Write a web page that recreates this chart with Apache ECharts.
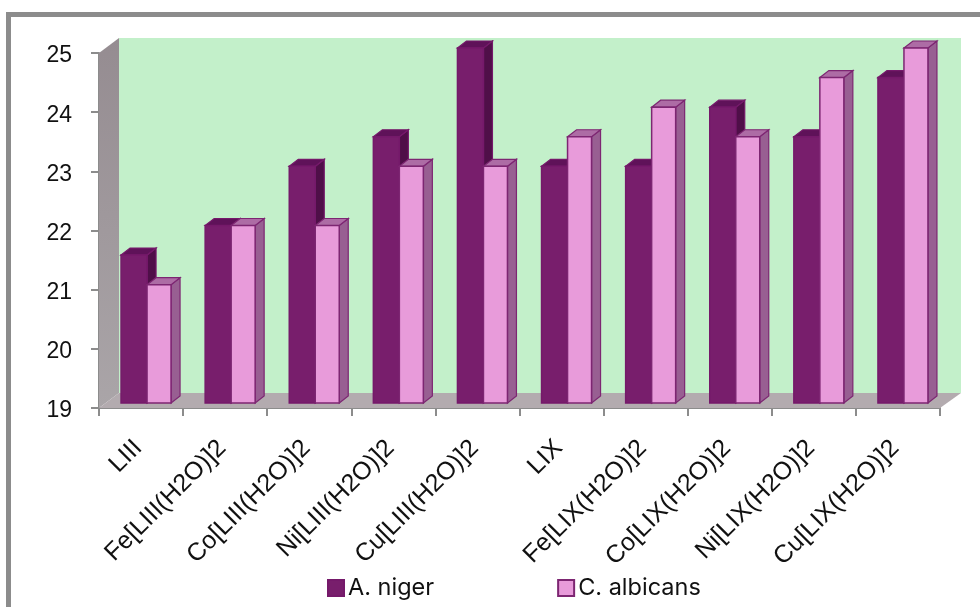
<!DOCTYPE html>
<html>
<head>
<meta charset="utf-8">
<style>html,body{margin:0;padding:0;background:#fff}#c{width:980px;height:607px}</style>
<script src="https://cdn.jsdelivr.net/npm/echarts@6/dist/echarts.min.js"></script>
</head>
<body>
<div id="c"></div>
<script>
// Antimicrobial activity of the ligands and their metal complexes
const categories = ['LIII','Fe[LIII(H2O)]2','Co[LIII(H2O)]2','Ni[LIII(H2O)]2','Cu[LIII(H2O)]2','LIX','Fe[LIX(H2O)]2','Co[LIX(H2O)]2','Ni[LIX(H2O)]2','Cu[LIX(H2O)]2'];
const aNiger = [21.5,22,23,23.5,25,23,23,24,23.5,24.5];
const cAlbicans = [21,22,22,23,23,23.5,24,23.5,24.5,25];
const yTicks = {min:19,max:25,step:1};

// Oblique projection used for the box depth
const wallDX = 20, wallDY = -15;
const barDX = 9, barDY = -7;
const barLift = -5, barShift = 6;

const chart = echarts.init(document.getElementById('c'));

function shade(points, fill, stroke, lw){
  return {type:'polygon',shape:{points},style:{fill,stroke:stroke||fill,lineWidth:lw==null?1:lw}};
}

// Back wall, side wall and floor, taken from the grid rectangle
function renderBox(params){
  const g = params.coordSys, l=g.x, t=g.y, r=g.x+g.width, b=g.y+g.height;
  const sideWall = new echarts.graphic.LinearGradient(0,0,0,1,[{offset:0,color:'#958c91'},{offset:1,color:'#aaa5a8'}]);
  return {type:'group',children:[
    shade([[l+wallDX,t+wallDY],[r+wallDX+1,t+wallDY],[r+wallDX+1,b+wallDY],[l+wallDX,b+wallDY]],'#c3f0ca','#c3f0ca',0),
    shade([[l,t],[l+wallDX,t+wallDY],[l+wallDX,b+wallDY],[l,b]],sideWall,'#9a9196',0),
    shade([[l,b],[l+wallDX,b+wallDY],[r+wallDX+1,b+wallDY],[r,b]],'#b3abaf','#b3abaf',0)
  ]};
}

// One bar in oblique view: front, right side and top faces
function barRenderer(x0Offset, barW, colors){
  return function(params, api){
    const idx = api.value(0), val = api.value(1);
    const top = api.coord([idx,val]), base = api.coord([idx,yTicks.min]);
    const x0 = top[0]+barShift+x0Offset, x1 = x0+barW;
    const y0 = top[1]+barLift, y1 = base[1]+barLift;
    return {type:'group',children:[
      shade([[x1,y0],[x1+barDX,y0+barDY],[x1+barDX,y1+barDY],[x1,y1]],colors.side,colors.line,1.2),
      shade([[x0,y0],[x0+barDX,y0+barDY],[x1+barDX,y0+barDY],[x1,y0]],colors.top,colors.line,1.2),
      shade([[x0,y0],[x1,y0],[x1,y1],[x0,y1]],colors.front,colors.line,1.5)
    ]};
  };
}

const darkFaces = {front:'#781e6c',side:'#4f0f48',top:'#5f1259',line:'#75196a'};
const pinkFaces = {front:'#e89bda',side:'#985f92',top:'#ad6ca5',line:'#7d2672'};

chart.setOption({
  animation:false,
  backgroundColor:'#fff',
  textStyle:{fontFamily:'Liberation Sans'},
  grid:{left:99,right:40,top:53,bottom:199,containLabel:false},
  xAxis:{
    type:'category',data:categories,boundaryGap:true,
    axisLine:{lineStyle:{color:'#8c8c8c',width:2}},
    axisTick:{show:true,alignWithLabel:false,length:8,lineStyle:{color:'#8c8c8c',width:2}},
    axisLabel:{interval:0,rotate:45,fontSize:25,color:'#111',margin:39,verticalAlign:'bottom',lineHeight:8}
  },
  yAxis:{
    type:'value',min:yTicks.min,max:yTicks.max,interval:yTicks.step,
    axisLine:{show:true,lineStyle:{color:'#8c8c8c',width:2}},
    axisTick:{show:true,length:8,lineStyle:{color:'#8c8c8c',width:2}},
    axisLabel:{fontSize:23,color:'#111',margin:27,verticalAlign:'top',lineHeight:6},
    splitLine:{show:false}
  },
  legend:{
    left:327,top:576,padding:0,itemWidth:16,itemHeight:16,itemGap:123,
    selectedMode:false,
    textStyle:{fontFamily:'Inter',fontSize:23.5,color:'#111',padding:[0,0,0,-1]},
    data:[{name:'A. niger',icon:'rect'},{name:'C. albicans',icon:'rect'}]
  },
  graphic:[{type:'rect',silent:true,z:100,shape:{x:8.5,y:14.5,width:1000,height:700},style:{fill:null,stroke:'#8c8c8c',lineWidth:5}}],
  series:[
    {type:'custom',coordinateSystem:'cartesian2d',silent:true,z:1,renderItem:renderBox,data:[[0,19]],legendHoverLink:false,tooltip:{show:false}},
    {name:'A. niger',type:'custom',coordinateSystem:'cartesian2d',z:2,renderItem:barRenderer(-26,26,darkFaces),
      itemStyle:{color:darkFaces.front,borderColor:darkFaces.line,borderWidth:1.5},
      data:aNiger.map((v,i)=>[i,v])},
    {name:'C. albicans',type:'custom',coordinateSystem:'cartesian2d',z:3,renderItem:barRenderer(0,24,pinkFaces),
      itemStyle:{color:pinkFaces.front,borderColor:pinkFaces.line,borderWidth:2},
      data:cAlbicans.map((v,i)=>[i,v])}
  ]
});
</script>
</body>
</html>
